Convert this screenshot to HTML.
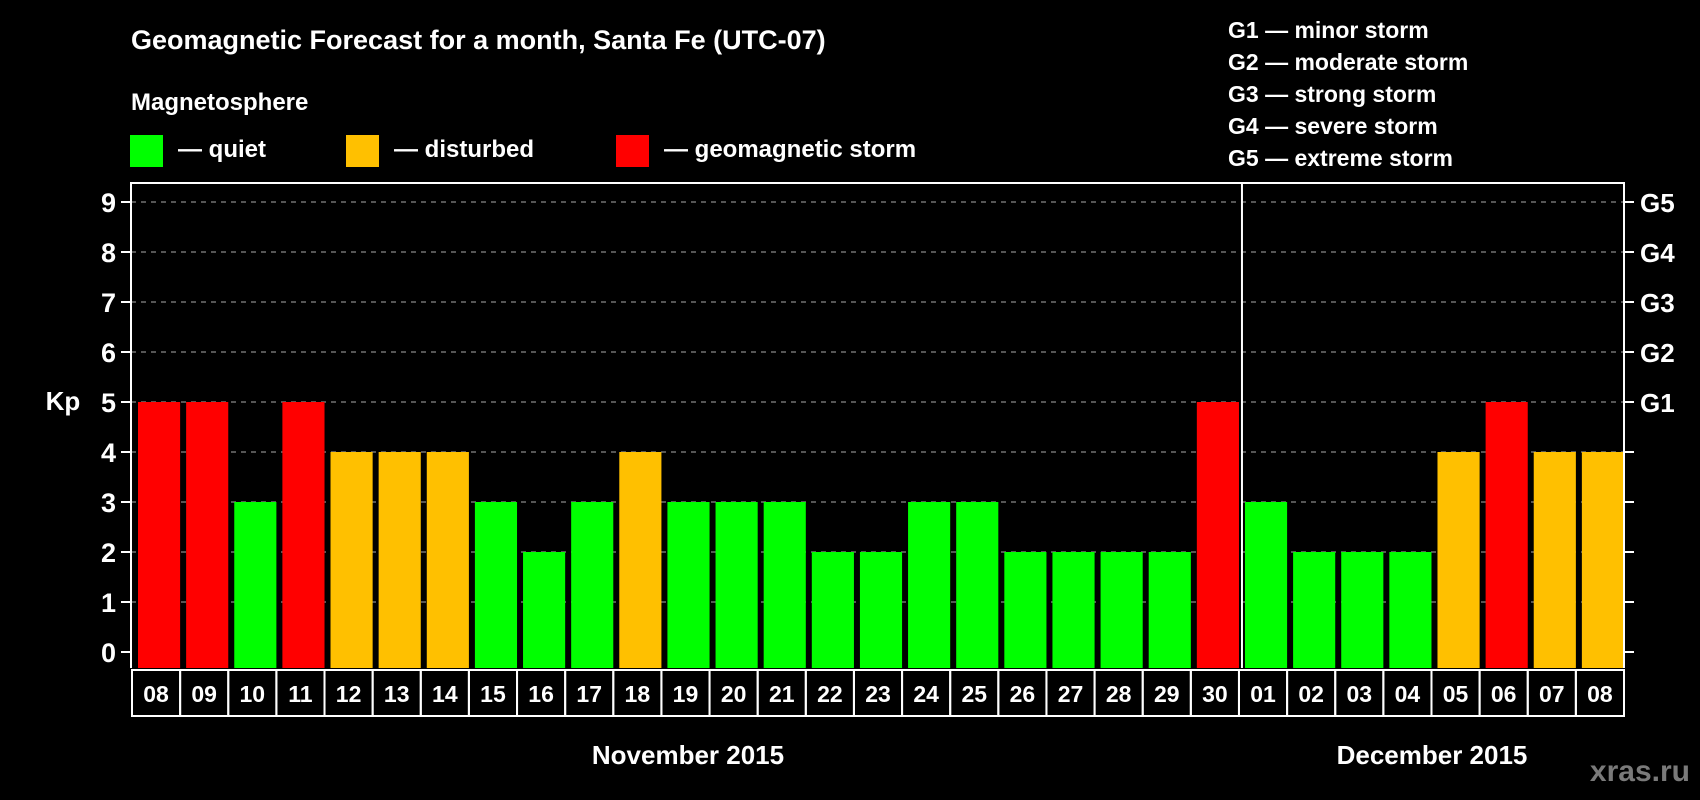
<!DOCTYPE html>
<html><head><meta charset="utf-8"><style>
html,body{margin:0;padding:0;background:#000;}
svg{display:block;font-family:"Liberation Sans",sans-serif;font-weight:bold;}
</style></head><body>
<svg id="chart" width="1700" height="800" viewBox="0 0 1700 800">
<rect width="1700" height="800" fill="#000"/>
<text x="131" y="49" font-size="27" fill="#fff">Geomagnetic Forecast for a month, Santa Fe (UTC-07)</text>
<text x="131" y="110" font-size="24" fill="#fff">Magnetosphere</text>
<g><rect x="130" y="135" width="33" height="32" fill="#00ff00"/><text x="178" y="157" font-size="24" fill="#fff">— quiet</text></g>
<g><rect x="346" y="135" width="33" height="32" fill="#ffc000"/><text x="394" y="157" font-size="24" fill="#fff">— disturbed</text></g>
<g><rect x="616" y="135" width="33" height="32" fill="#ff0000"/><text x="664" y="157" font-size="24" fill="#fff">— geomagnetic storm</text></g>
<g font-size="23" fill="#fff">
<text x="1228" y="38">G1 — minor storm</text>
<text x="1228" y="70">G2 — moderate storm</text>
<text x="1228" y="102">G3 — strong storm</text>
<text x="1228" y="134">G4 — severe storm</text>
<text x="1228" y="166">G5 — extreme storm</text>
</g>
<g id="plot"></g>
<text x="63" y="410" font-size="26" fill="#fff" text-anchor="middle">Kp</text>
<text x="688" y="764" font-size="26" fill="#fff" text-anchor="middle">November 2015</text>
<text x="1432" y="764" font-size="26" fill="#fff" text-anchor="middle">December 2015</text>
<text x="1690" y="781" font-size="30" fill="#7a7a7a" text-anchor="end">xras.ru</text>
</svg>
<script>
const days = ["08","09","10","11","12","13","14","15","16","17","18","19","20","21","22","23","24","25","26","27","28","29","30","01","02","03","04","05","06","07","08"];
const kpValues = [5,5,3,5,4,4,4,3,2,3,4,3,3,3,2,2,3,3,2,2,2,2,5,3,2,2,2,4,5,4,4];
const yTicks = [0,1,2,3,4,5,6,7,8,9];
const gLabels = ["G1","G2","G3","G4","G5"];
const monthSplitIndex = 23;

const NS = "http://www.w3.org/2000/svg";
const plot = document.getElementById("plot");
const L = 131, R = 1624, T = 183, B = 668;
const pitch = (R - L - 1) / days.length;
const y = v => 652 - v * 50;
const x = i => L + 7 + i * pitch;
function mk(tag, attrs) { const e = document.createElementNS(NS, tag); for (const k in attrs) e.setAttribute(k, attrs[k]); plot.appendChild(e); return e; }
function color(v) { return v >= 5 ? "#ff0000" : (v >= 4 ? "#ffc000" : "#00ff00"); }

yTicks.forEach(t => {
  if (t > 0) {
    const g = mk("line", {x1: L, x2: R, y1: y(t), y2: y(t), stroke: "#888", "stroke-width": 1.2, "stroke-dasharray": "5,5"});
    
    
  }
  const lt = mk("line", {x1: L - 10, x2: L, y1: y(t), y2: y(t), stroke: "#fff", "stroke-width": 2});
  
  
  const rt = mk("line", {x1: R, x2: R + 10, y1: y(t), y2: y(t), stroke: "#fff", "stroke-width": 2});
  
  
  const tx = mk("text", {x: L - 15, y: y(t) + 10, "font-size": 27, fill: "#fff", "text-anchor": "end"});
  tx.textContent = t;
  
  
});
gLabels.forEach((g, i) => {
  const tx = mk("text", {x: 1640, y: y(5 + i) + 10, "font-size": 26, fill: "#fff"});
  tx.textContent = g;
  
  
});
kpValues.forEach((v, i) => {
  const b = mk("rect", {x: x(i), y: y(v), width: pitch - 6, height: B - y(v), fill: color(v)});
  
  
});
const frame = mk("path", {d: `M${L} ${B}V${T}H${R}V${B}`, fill: "none", stroke: "#fff", "stroke-width": 2});


const sx = L + 7 + monthSplitIndex * pitch - 3;
const sep = mk("line", {x1: sx, x2: sx, y1: T, y2: B, stroke: "#fff", "stroke-width": 2});


const bx0 = R - days.length * pitch;
days.forEach((d, i) => {
  const bx = mk("rect", {x: bx0 + i * pitch, y: 670, width: pitch, height: 46, fill: "none", stroke: "#fff", "stroke-width": 2});
  
  
  const tx = mk("text", {x: bx0 + i * pitch + pitch / 2, y: 702, "font-size": 23, fill: "#fff", "text-anchor": "middle"});
  tx.textContent = d;
  
  
});
</script>
</body></html>
